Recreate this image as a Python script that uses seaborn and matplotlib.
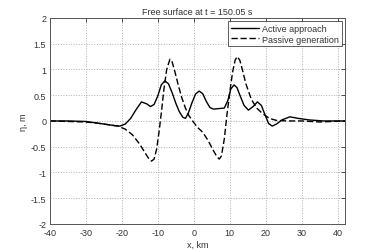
import matplotlib
matplotlib.use("Agg")
import matplotlib.pyplot as plt
import seaborn as sns
import pandas as pd

active_x = [-40, -35, -30, -27, -24, -22, -20.5, -19, -17.5, -16, -14.5, -13, -12, -11, -10, -9, -8, -7, -6, -5, -4, -3, -2.3, -1.5, -0.5, 0.5, 1.5, 2.5, 3.5, 4.5, 5.5, 7, 8.5, 9.5, 10.3, 11.2, 12, 13, 14, 15.2, 16.5, 17.7, 18.8, 19.8, 20.8, 21.8, 23, 24.5, 26.7, 29, 32, 36, 42]
active_y = [0, 0, -0.01, -0.04, -0.07, -0.09, -0.1, -0.06, 0.05, 0.22, 0.37, 0.33, 0.28, 0.32, 0.48, 0.7, 0.78, 0.72, 0.55, 0.35, 0.18, 0.07, 0.05, 0.15, 0.35, 0.52, 0.58, 0.53, 0.38, 0.26, 0.23, 0.24, 0.25, 0.40, 0.62, 0.70, 0.65, 0.47, 0.30, 0.21, 0.28, 0.37, 0.30, 0.12, -0.05, -0.10, -0.06, 0.02, 0.08, 0.05, 0.02, 0.0, 0.0]

passive_x = [-40, -35, -30, -27, -24, -21, -19, -17, -15, -13.5, -12.5, -11.7, -11, -10.3, -9.7, -9, -8.3, -7.5, -6.6, -6, -5.2, -4.3, -3.3, -2.3, -1.3, -0.3, 1, 2.5, 4, 5.5, 6.5, 7.1, 7.7, 8.5, 9.2, 10, 10.8, 11.5, 12.1, 12.8, 13.5, 14.5, 16, 17.5, 19, 21, 23, 26, 30, 35, 42]
passive_y = [0, -0.01, -0.02, -0.04, -0.07, -0.1, -0.16, -0.27, -0.45, -0.62, -0.73, -0.78, -0.74, -0.55, -0.25, 0.15, 0.6, 1.0, 1.2, 1.15, 0.95, 0.7, 0.45, 0.25, 0.1, 0.0, -0.12, -0.22, -0.38, -0.58, -0.70, -0.74, -0.68, -0.35, 0.1, 0.55, 0.95, 1.18, 1.25, 1.18, 1.0, 0.72, 0.42, 0.25, 0.15, 0.05, 0.01, 0.0, 0.0, -0.02, 0.0]

x_ticks = [-40, -30, -20, -10, 0, 10, 20, 30, 40]
y_ticks = [-2, -1.5, -1, -0.5, 0, 0.5, 1, 1.5, 2]
y_tick_labels = ["-2", "-1.5", "-1", "-0.5", "0", "0.5", "1", "1.5", "2"]
x_tick_labels = ["-40", "-30", "-20", "-10", "0", "10", "20", "30", "40"]
series_names = ["Active approach", "Passive generation"]
title = "Free surface at t = 150.05 s"

sns.set_style("white")
plt.rcParams['font.family'] = ['Liberation Sans', 'DejaVu Sans']
plt.rcParams['axes.unicode_minus'] = False
txt = "#333333"

df = pd.concat([
    pd.DataFrame({"x": active_x, "y": active_y, "s": series_names[0]}),
    pd.DataFrame({"x": passive_x, "y": passive_y, "s": series_names[1]}),
])

fig = plt.figure(figsize=(3.82, 2.53), dpi=100)
ax = fig.add_axes([0.130, 0.111, 0.773, 0.814])
sns.lineplot(data=df, x="x", y="y", hue="s", style="s",
             palette=["black", "black"], dashes=[(None, None), (4.5, 2)],
             linewidth=1.0, sort=False, estimator=None, ax=ax)

ax.set_xlim(-40, 42)
ax.set_ylim(-2, 2)
ax.set_xticks(x_ticks)
ax.set_xticklabels(x_tick_labels)
ax.set_yticks(y_ticks)
ax.set_yticklabels(y_tick_labels)
ax.grid(True, linestyle=":", color="#b0b0b0", linewidth=0.7)
ax.tick_params(direction="in", length=3, width=0.6, labelsize=6.5, colors=txt,
               top=True, right=True)
ax.tick_params(axis="x", pad=3)
ax.tick_params(axis="y", pad=2.5)
for sp in ax.spines.values():
    sp.set_color("#555555")
    sp.set_linewidth(0.7)
ax.set_xlabel("x, km", fontsize=6.5, color=txt, labelpad=2)
ax.set_ylabel("η, m", fontsize=6.5, color=txt, labelpad=2)
ax.set_title(title, fontsize=6.5, color=txt, pad=3)

leg = ax.legend(loc="upper right", fontsize=6.5, frameon=True, fancybox=False,
                handlelength=3.2, borderpad=0.3, labelspacing=0.2,
                handletextpad=0.3, borderaxespad=0.35)
leg.get_frame().set_edgecolor("#333333")
leg.get_frame().set_linewidth(0.7)
for t in leg.get_texts():
    t.set_color(txt)

fig.savefig("out.png", dpi=100)
